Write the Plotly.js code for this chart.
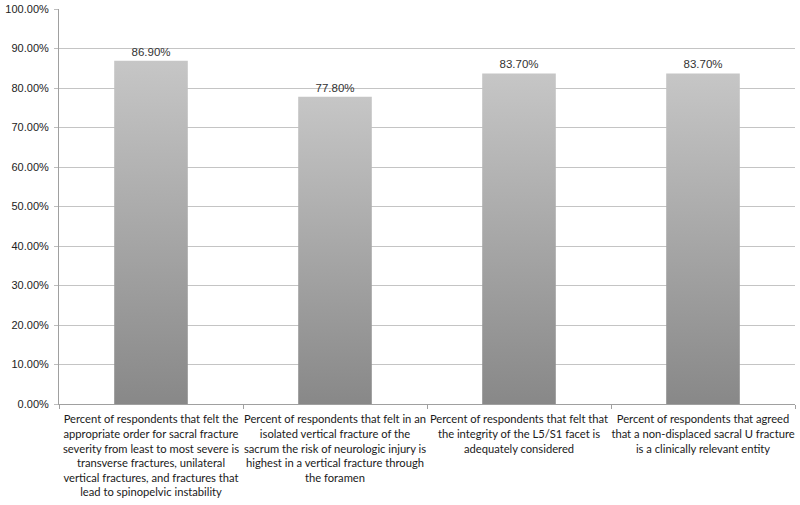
<!DOCTYPE html>
<html>
<head>
<meta charset="utf-8">
<script src="https://cdn.plot.ly/plotly-3.0.1.min.js"></script>
<style>
  html, body { margin: 0; padding: 0; background: #fff; }
  #chart { width: 800px; height: 505px; }
</style>
</head>
<body>
<div id="chart"></div>
<script>
const categories = [
  "Percent of respondents that felt the<br>appropriate order for sacral fracture<br>severity from least to most severe is<br>transverse fractures, unilateral<br>vertical fractures, and fractures that<br>lead to spinopelvic instability",
  "Percent of respondents that felt in an<br>isolated vertical fracture of the<br>sacrum the risk of neurologic injury is<br>highest in a vertical fracture through<br>the foramen",
  "Percent of respondents that felt that<br>the integrity of the L5/S1 facet is<br>adequately considered",
  "Percent of respondents that agreed<br>that a non-displaced sacral U fracture<br>is a clinically relevant entity"
];
const values = [0.869, 0.778, 0.837, 0.837];
const yTickVals = [0, 0.1, 0.2, 0.3, 0.4, 0.5, 0.6, 0.7, 0.8, 0.9, 1.0];
const yTickText = ["0.00%", "10.00%", "20.00%", "30.00%", "40.00%", "50.00%", "60.00%", "70.00%", "80.00%", "90.00%", "100.00%"];

const trace = {
  type: "bar",
  x: categories,
  y: values,
  marker: { color: "#a8a8a8", line: { width: 0 } },
  text: values.map(v => (v * 100).toFixed(2) + "%"),
  textposition: "outside",
  cliponaxis: false,
  textfont: { family: "Liberation Sans, Arial, sans-serif", size: 11.5, color: "#333" },
  hoverinfo: "none"
};

const layout = {
  width: 800, height: 505,
  margin: { l: 59, r: 5, t: 9, b: 101 },
  paper_bgcolor: "#fff", plot_bgcolor: "#fff",
  showlegend: false,
  bargap: 0.6,
  xaxis: {
    type: "category",
    tickson: "boundaries",
    ticks: "outside", ticklen: 4, tickcolor: "#a0a0a0",
    ticklabelstandoff: 5,
    showgrid: false,
    showline: true, linecolor: "#a0a0a0", linewidth: 1,
    tickfont: { family: "Lato, sans-serif", size: 11.2, color: "#1a1a1a" },
    tickangle: 0,
    automargin: false
  },
  yaxis: {
    range: [0, 1.0],
    tickvals: yTickVals, ticktext: yTickText,
    ticks: "outside", ticklen: 4, tickcolor: "#bdbdbd",
    ticklabelstandoff: 3,
    showgrid: true, gridcolor: "#c4c4c4", gridwidth: 1,
    showline: true, linecolor: "#a0a0a0", linewidth: 1,
    zeroline: false,
    tickfont: { family: "Liberation Sans, Arial, sans-serif", size: 11, color: "#222" },
    automargin: false
  }
};

function applyGradient(gd) {
  const svg = gd.querySelector("svg.main-svg");
  if (!svg) return;
  const ns = "http://www.w3.org/2000/svg";
  let defs = svg.querySelector("defs");
  if (!defs) { defs = document.createElementNS(ns, "defs"); svg.insertBefore(defs, svg.firstChild); }
  if (!svg.querySelector("#barGrad")) {
    const g = document.createElementNS(ns, "linearGradient");
    g.setAttribute("id", "barGrad");
    g.setAttribute("x1", "0"); g.setAttribute("y1", "0");
    g.setAttribute("x2", "0"); g.setAttribute("y2", "1");
    [["0", "#c6c6c6"], ["1", "#888888"]].forEach(([o, c]) => {
      const s = document.createElementNS(ns, "stop");
      s.setAttribute("offset", o); s.setAttribute("stop-color", c);
      g.appendChild(s);
    });
    defs.appendChild(g);
  }
  gd.querySelectorAll(".barlayer .point path").forEach(p => {
    p.style.fill = "url(#barGrad)";
    p.style.fillOpacity = 1;
  });
}

const gd = document.getElementById("chart");
Plotly.newPlot(gd, [trace], layout, { displayModeBar: false, staticPlot: true }).then(() => {
  applyGradient(gd);
  gd.on("plotly_afterplot", () => applyGradient(gd));
});
</script>
</body>
</html>
